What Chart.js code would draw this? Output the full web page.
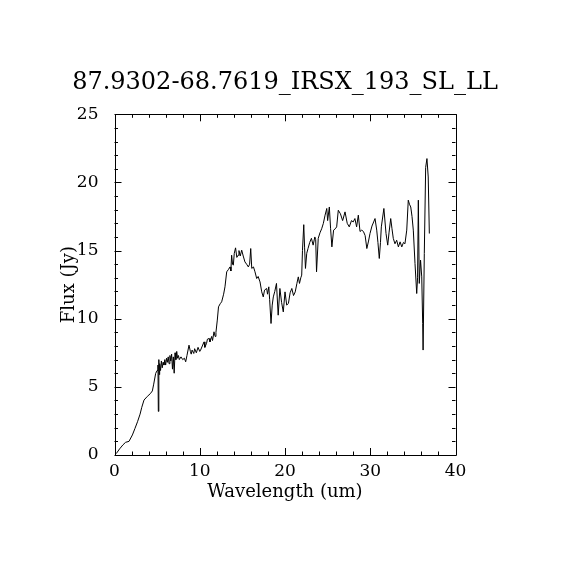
<!DOCTYPE html>
<html>
<head>
<meta charset="utf-8">
<script src="https://cdn.jsdelivr.net/npm/chart.js@4/dist/chart.umd.min.js"></script>
<style>
  html, body { margin: 0; padding: 0; background: #fff; }
  #wrap { width: 570px; height: 570px; }
</style>
</head>
<body>
<div id="wrap"><canvas id="spec" width="570" height="570"></canvas></div>
<script>
const chartTitle = "87.9302-68.7619_IRSX_193_SL_LL";
const xTitle = "Wavelength (um)";
const yTitle = "Flux (Jy)";

// wavelength (um)
const wavelength = [
  0.2, 0.6, 1.0, 1.3, 1.7, 2.1, 2.4, 2.7, 3.0, 3.2, 3.46, 3.85, 4.2, 4.44, 4.6, 4.83, 5.0, 5.1, 5.14, 5.2,
  5.25, 5.3, 5.4, 5.5, 5.6, 5.7, 5.8, 5.9, 6.0, 6.1, 6.2, 6.3, 6.4, 6.5, 6.6, 6.7, 6.8, 6.9, 7.0, 7.1,
  7.2, 7.3, 7.4, 7.5, 7.6, 7.8, 8.0, 8.2, 8.35, 8.5, 8.74, 8.9, 9.0, 9.1, 9.3, 9.4, 9.6, 9.8, 10.0, 10.1,
  10.3, 10.5, 10.6, 10.8, 10.9, 11.1, 11.2, 11.4, 11.5, 11.67, 11.8, 11.9, 12.06, 12.2, 12.4, 12.57, 12.8, 12.96, 13.16, 13.35,
  13.55, 13.65, 13.74, 13.85, 13.94, 14.05, 14.2, 14.35, 14.5, 14.6, 14.75, 14.92, 15.1, 15.3, 15.5, 15.7, 15.85, 15.98, 16.1, 16.3,
  16.48, 16.68, 16.85, 17.07, 17.27, 17.45, 17.6, 17.85, 17.95, 18.1, 18.2, 18.36, 18.5, 18.63, 18.8, 19.0, 19.2, 19.4, 19.6, 19.8,
  20.0, 20.2, 20.4, 20.6, 20.8, 21.0, 21.2, 21.4, 21.56, 21.7, 21.85, 21.96, 22.05, 22.2, 22.3, 22.4, 22.55, 22.7, 22.9, 23.1,
  23.3, 23.5, 23.6, 23.7, 23.9, 24.1, 24.3, 24.5, 24.7, 24.9, 25.0, 25.2, 25.35, 25.5, 25.7, 25.9, 26.06, 26.25, 26.5, 26.76,
  27.04, 27.3, 27.54, 27.8, 28.0, 28.2, 28.4, 28.6, 28.8, 29.0, 29.2, 29.4, 29.6, 29.8, 29.97, 30.2, 30.4, 30.56, 30.76, 30.9,
  31.06, 31.2, 31.3, 31.6, 31.85, 32.05, 32.2, 32.4, 32.55, 32.7, 32.9, 33.1, 33.3, 33.5, 33.7, 33.9, 34.07, 34.28, 34.46, 34.6,
  34.75, 34.9, 35.05, 35.25, 35.45, 35.55, 35.64, 35.75, 35.9, 36.04, 36.15, 36.2, 36.34, 36.5, 36.65, 36.8, 36.93
];

// flux (Jy)
const flux = [
  0.1, 0.45, 0.75, 0.93, 1.0, 1.47, 1.95, 2.44, 3.0, 3.5, 4.03, 4.3, 4.5, 4.7, 5.2, 5.99, 6.2, 6.6, 3.2, 7.0,
  5.9, 6.7, 6.2, 6.9, 6.4, 6.8, 6.6, 7.0, 6.6, 7.1, 6.8, 7.2, 6.7, 7.3, 6.9, 7.4, 6.3, 7.2, 6.0, 7.5,
  7.0, 7.6, 7.1, 7.3, 7.0, 7.2, 7.0, 7.1, 6.84, 7.3, 8.06, 7.6, 7.4, 7.7, 7.45, 7.8, 7.5, 7.9, 7.6, 7.7,
  8.0, 8.3, 7.9, 8.2, 8.5, 8.55, 8.3, 8.7, 8.4, 9.04, 8.7, 9.0, 9.9, 10.87, 11.1, 11.24, 11.8, 12.34, 13.44, 13.6,
  13.8, 13.5, 14.66, 14.0, 13.93, 14.8, 15.2, 14.5, 14.66, 15.0, 14.6, 15.03, 14.6, 14.17, 14.0, 13.8, 14.0, 15.15, 13.69, 13.8,
  13.44, 12.95, 13.1, 12.7, 11.97, 11.6, 12.1, 12.22, 11.8, 12.34, 11.4, 9.65, 11.0, 11.6, 12.0, 12.59, 10.26, 12.22, 11.2, 10.5,
  11.97, 11.0, 11.12, 11.9, 12.22, 11.7, 11.97, 12.6, 13.07, 12.59, 13.0, 13.2, 15.0, 16.9, 15.2, 13.69, 14.8, 15.15, 15.6, 15.9,
  15.4, 16.0, 15.8, 13.44, 15.9, 16.3, 16.6, 17.0, 17.6, 18.09, 17.2, 18.2, 16.6, 15.27, 16.5, 16.6, 16.74, 17.96, 17.7, 17.2,
  17.84, 17.0, 16.74, 17.2, 17.1, 17.35, 16.74, 17.6, 16.4, 16.5, 16.4, 16.1, 15.15, 15.7, 16.25, 16.8, 17.1, 17.35, 16.5, 15.6,
  14.42, 15.6, 16.74, 18.09, 16.25, 15.4, 16.3, 17.35, 16.6, 15.9, 15.5, 15.76, 15.27, 15.64, 15.27, 15.6, 15.5, 16.5, 18.7, 18.4,
  18.2, 17.5, 16.5, 14.05, 11.85, 13.0, 18.7, 12.59, 14.3, 13.07, 9.65, 7.7, 14.79, 21.1, 21.75, 20.4, 16.25
];

const xTicks = [0, 10, 20, 30, 40];
const yTicks = [0, 5, 10, 15, 20, 25];

const fontFamily = "'DejaVu Serif', 'Liberation Serif', serif";

// box round the plot with IDL style inward ticks on all four sides
const frameTicks = {
  id: "frameTicks",
  afterDraw(chart) {
    const { ctx, chartArea: a, scales: { x, y } } = chart;
    ctx.save();
    ctx.strokeStyle = "#000";
    ctx.lineWidth = 1;
    ctx.beginPath();
    ctx.rect(Math.round(a.left) + 0.5, Math.round(a.top) + 0.5,
      Math.round(a.right - a.left), Math.round(a.bottom - a.top));
    ctx.stroke();
    ctx.beginPath();
    for (let v = 0; v <= 40; v += 2) {
      const px = Math.round(x.getPixelForValue(v)) + 0.5;
      const len = v % 10 === 0 ? 7 : 3.5;
      ctx.moveTo(px, a.bottom); ctx.lineTo(px, a.bottom - len);
      ctx.moveTo(px, a.top); ctx.lineTo(px, a.top + len);
    }
    for (let v = 0; v <= 25; v += 1) {
      const py = Math.round(y.getPixelForValue(v)) + 0.5;
      const len = v % 5 === 0 ? 7 : 3.5;
      ctx.moveTo(a.left, py); ctx.lineTo(a.left + len, py);
      ctx.moveTo(a.right, py); ctx.lineTo(a.right - len, py);
    }
    ctx.stroke();
    ctx.restore();
  }
};

new Chart(document.getElementById("spec"), {
  type: "scatter",
  data: {
    datasets: [{
      data: wavelength.map((w, i) => ({ x: w, y: flux[i] })),
      showLine: true,
      borderColor: "#000",
      borderWidth: 1,
      pointRadius: 0,
      tension: 0,
    }],
  },
  options: {
    responsive: false,
    animation: false,
    devicePixelRatio: 1,
    layout: { padding: 0 },
    plugins: {
      legend: { display: false },
      tooltip: { enabled: false },
      title: {
        display: true,
        text: chartTitle,
        color: "#000",
        font: { family: fontFamily, size: 24, weight: "normal" },
        padding: { top: 68, bottom: 17.5 },
      },
    },
    scales: {
      x: {
        type: "linear",
        min: 0,
        max: 40,
        afterBuildTicks: (s) => { s.ticks = xTicks.map((v) => ({ value: v })); },
        afterFit: (s) => { s.height = 115; },
        grid: { display: false },
        border: { display: false },
        ticks: { color: "#000", padding: -2, maxRotation: 0, font: { family: fontFamily, size: 17 } },
        title: {
          display: true,
          text: xTitle,
          color: "#000",
          font: { family: fontFamily, size: 18 },
          padding: { top: 0, bottom: 67 },
        },
      },
      y: {
        type: "linear",
        min: 0,
        max: 25,
        afterBuildTicks: (s) => { s.ticks = yTicks.map((v) => ({ value: v })); },
        afterFit: (s) => { s.width = 114.5; },
        grid: { display: false },
        border: { display: false },
        ticks: { color: "#000", padding: 8, font: { family: fontFamily, size: 17 } },
        title: {
          display: true,
          text: yTitle,
          color: "#000",
          font: { family: fontFamily, size: 18 },
          padding: { top: 59, bottom: 0 },
        },
      },
      // empty right margin so the title centres on the page
      yRight: {
        type: "linear",
        position: "right",
        min: 0,
        max: 25,
        afterFit: (s) => { s.width = 114.5; },
        grid: { display: false },
        border: { display: false },
        ticks: { display: false },
      },
    },
  },
  plugins: [frameTicks],
});
</script>
</body>
</html>
